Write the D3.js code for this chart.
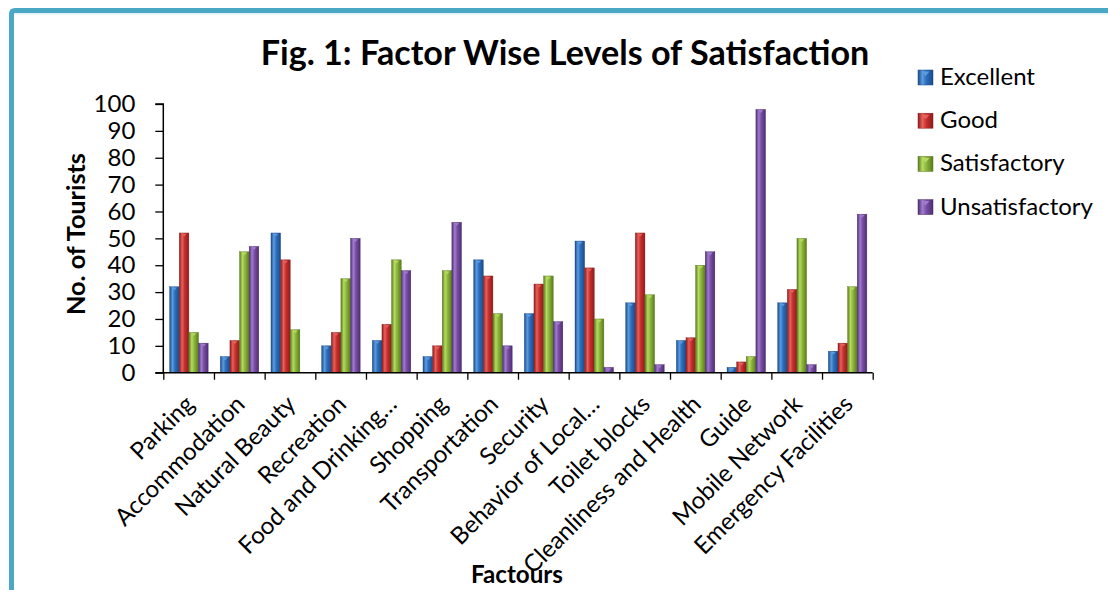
<!DOCTYPE html>
<html>
<head>
<meta charset="utf-8">
<script src="https://cdn.jsdelivr.net/npm/d3@7"></script>
<style>
  html, body { margin: 0; padding: 0; background: #fff; }
  svg { display: block; }
  text { font-family: Lato, "Open Sans", sans-serif; fill: #000; }
</style>
</head>
<body>
<svg id="chart" width="1108" height="590"></svg>
<script>
// ---- data ----
const categories = ["Parking", "Accommodation", "Natural Beauty", "Recreation", "Food and Drinking\u2026",
  "Shopping", "Transportation", "Security", "Behavior of Local\u2026", "Toilet blocks",
  "Cleanliness and Health", "Guide", "Mobile Network", "Emergency Facilities"];
const seriesNames = ["Excellent", "Good", "Satisfactory", "Unsatisfactory"];
const excellent      = [32,  6, 52, 10, 12,  6, 42, 22, 49, 26, 12,  2, 26,  8];
const good           = [52, 12, 42, 15, 18, 10, 36, 33, 39, 52, 13,  4, 31, 11];
const satisfactory   = [15, 45, 16, 35, 42, 38, 22, 36, 20, 29, 40,  6, 50, 32];
const unsatisfactory = [11, 47,  0, 50, 38, 56, 10, 19,  2,  3, 45, 98,  3, 59];
const yTicks = [0, 10, 20, 30, 40, 50, 60, 70, 80, 90, 100];
const titleText = "Fig. 1: Factor Wise Levels of Satisfaction";
const yTitle = "No. of Tourists";
const xTitle = "Factours";

const seriesValues = [excellent, good, satisfactory, unsatisfactory];
const colors = [
  {dark: "#1b4b87", base: "#2b6fbf", light: "#5c9be0"},
  {dark: "#8a1d1c", base: "#c8302e", light: "#e8615c"},
  {dark: "#5a7a1f", base: "#8cb83a", light: "#b5da62"},
  {dark: "#4d2f6e", base: "#7a4ea8", light: "#a07ccc"}
];

const svg = d3.select("#chart");
const defs = svg.append("defs");
colors.forEach((c, i) => {
  const g = defs.append("linearGradient").attr("id", "grad" + i)
    .attr("x1", "0").attr("x2", "1").attr("y1", "0").attr("y2", "0");
  g.append("stop").attr("offset", "0%").attr("stop-color", c.dark);
  g.append("stop").attr("offset", "30%").attr("stop-color", c.light);
  g.append("stop").attr("offset", "55%").attr("stop-color", c.base);
  g.append("stop").attr("offset", "100%").attr("stop-color", c.dark);
});

// ---- frame border ----
svg.append("path")
  .attr("d", "M11.5,590 L11.5,14 Q11.5,10.5 15,10.5 L1108,10.5")
  .attr("fill", "none").attr("stroke", "#4aa8c4").attr("stroke-width", 5);
svg.append("line").attr("x1", 15).attr("x2", 1108).attr("y1", 13.8).attr("y2", 13.8)
  .attr("stroke", "#d6eef6").attr("stroke-width", 1.2);

// ---- layout ----
const plotL = 163.3, plotR = 872.7, plotT = 104, plotB = 372.7;

const x0 = d3.scaleBand().domain(categories).range([plotL, plotR]).padding(0);
const bw = x0.bandwidth();
const x1 = d3.scaleBand().domain(seriesNames).range([bw * 0.125, bw * 0.885]).padding(0);
const xb = d3.scaleLinear().domain([0, categories.length]).range([plotL, plotR]);
const y = d3.scaleLinear().domain([0, 100]).range([plotB, plotT]);

// font size fitting (Calibri substitute)
function fitSize(str, target, weight) {
  const t = svg.append("text").attr("font-size", 100).attr("font-weight", weight).text(str);
  const w = t.node().getComputedTextLength();
  t.remove();
  return 100 * target / w;
}
const fsReg = fitSize("Excellent", 95, 400);
const fsTitle = fitSize(titleText, 609, 700);
const fsY = fitSize(yTitle, 162, 700);
const fsX = fitSize(xTitle, 92, 700);

// ---- bars ----
const gBars = svg.append("g");
seriesNames.forEach((s, si) => {
  const vals = seriesValues[si];
  const g = gBars.append("g");
  g.selectAll("rect").data(categories).join("rect")
    .attr("x", d => x0(d) + x1(s))
    .attr("y", (d, i) => y(vals[i]))
    .attr("width", x1.bandwidth())
    .attr("height", (d, i) => plotB - y(vals[i]))
    .attr("fill", "url(#grad" + si + ")")
    .attr("stroke", colors[si].dark).attr("stroke-width", 0.4);
  g.selectAll("path").data(categories.filter((d, i) => vals[i] > 1)).join("path")
    .attr("d", d => {
      const i = categories.indexOf(d);
      const cx = x0(d) + x1(s) + x1.bandwidth() / 2;
      const ty = y(vals[i]);
      return `M${cx - 2.6},${ty + 0.8} L${cx + 2.6},${ty + 0.8} L${cx},${ty + 3.6} Z`;
    })
    .attr("fill", colors[si].light).attr("opacity", 0.95);
});

// ---- y axis ----
const yAxis = svg.append("g").attr("transform", `translate(${plotL},0)`)
  .call(d3.axisLeft(y).tickValues(yTicks).tickSize(8).tickPadding(20).tickFormat(d3.format("d")));
yAxis.select(".domain").attr("stroke", "#000").attr("stroke-width", 1.5).attr("d", `M-8,${plotT}H0V${plotB}`);
yAxis.selectAll(".tick line").attr("stroke", "#000").attr("stroke-width", 1.3);
yAxis.selectAll(".tick text").attr("font-size", fsReg).attr("font-family", "Lato, sans-serif").attr("fill", "#000");

// ---- x axis: boundary ticks ----
const xTickAxis = svg.append("g").attr("transform", `translate(0,${plotB})`)
  .call(d3.axisBottom(xb).tickValues(d3.range(0, categories.length + 1)).tickSize(7).tickFormat(""));
xTickAxis.select(".domain").attr("stroke", "#000").attr("stroke-width", 1.5).attr("d", `M${plotL - 8},0H${plotR}`);
xTickAxis.selectAll(".tick line").attr("stroke", "#000").attr("stroke-width", 1.3);

// ---- x axis labels ----
const xLab = svg.append("g").attr("transform", `translate(0,${plotB})`)
  .call(d3.axisBottom(x0).tickSize(0));
xLab.select(".domain").remove();
xLab.selectAll(".tick text")
  .attr("font-size", fsReg).attr("font-family", "Lato, sans-serif").attr("fill", "#000")
  .attr("text-anchor", "end").attr("y", 0).attr("dy", 0)
  .attr("transform", "translate(7,33) rotate(-45)");

// ---- titles ----
svg.append("text").attr("x", 565).attr("y", 65).attr("text-anchor", "middle")
  .attr("font-weight", 700).attr("font-size", fsTitle).text(titleText);
svg.append("text").attr("transform", "translate(85,234) rotate(-90)").attr("text-anchor", "middle")
  .attr("font-weight", 700).attr("font-size", fsY).text(yTitle);
svg.append("text").attr("x", 517).attr("y", 583).attr("text-anchor", "middle")
  .attr("font-weight", 700).attr("font-size", fsX).text(xTitle);

// ---- legend ----
const legend = svg.append("g");
seriesNames.forEach((s, i) => {
  const g = legend.append("g").attr("transform", `translate(918,${70 + i * 43.2})`);
  g.append("rect").attr("width", 15).attr("height", 15)
    .attr("fill", "url(#grad" + i + ")").attr("stroke", colors[i].dark).attr("stroke-width", 0.5);
  g.append("path").attr("d", "M3.5,1.5 L11.5,1.5 L7.5,6 Z").attr("fill", colors[i].light);
  g.append("text").attr("x", 22).attr("y", 15).attr("font-size", fsReg).text(s);
});
</script>
</body>
</html>
